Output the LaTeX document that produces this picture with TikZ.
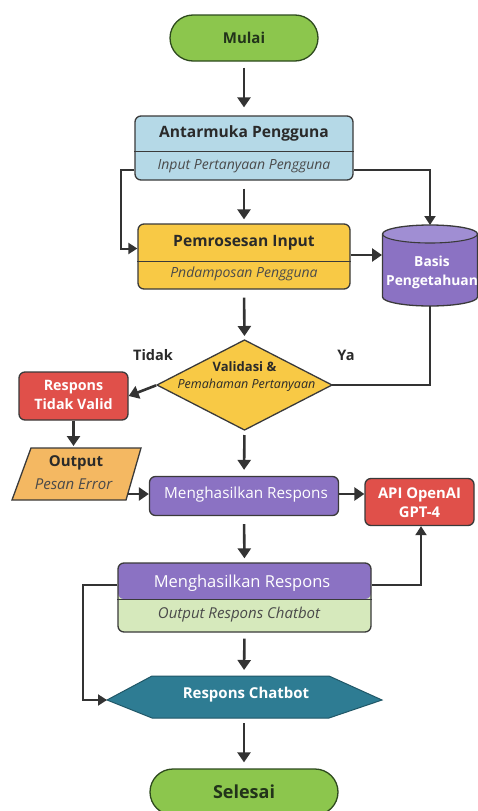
\documentclass[tikz,border=0pt]{standalone}
\usepackage{fontspec}
\setmainfont{Open Sans}
\usetikzlibrary{arrows.meta}
\definecolor{arrc}{HTML}{333333}
\definecolor{edge}{HTML}{3A3A3A}
\definecolor{termg}{HTML}{8CC64D}
\definecolor{termb}{HTML}{2E4A1E}
\definecolor{termt}{HTML}{22331A}
\definecolor{lblue}{HTML}{B5D9E7}
\definecolor{yel}{HTML}{F8C945}
\definecolor{purp}{HTML}{8B72C3}
\definecolor{purpl}{HTML}{A08ED3}
\definecolor{redb}{HTML}{E0504A}
\definecolor{oran}{HTML}{F4B862}
\definecolor{lgreen}{HTML}{D6E9BC}
\definecolor{teal}{HTML}{2E7C93}
\definecolor{darkt}{HTML}{2A2A2A}
\begin{document}
\begin{tikzpicture}[x=1pt,y=-1pt,
  arr/.style={draw=arrc, line width=2.6pt, -{Triangle[length=10pt,width=13pt]}},
  ln/.style={draw=arrc, line width=2pt, -{Triangle[length=9pt,width=11pt]}},
  plain/.style={draw=arrc, line width=2pt},
  term/.style={draw=termb, line width=1.3pt, fill=termg, rounded corners=23pt, minimum width=148pt, minimum height=46pt, font=\fontsize{15}{18}\selectfont\bfseries, text=termt},
  box/.style={draw=edge, line width=1.3pt, rounded corners=6pt, inner sep=0pt},
  ttl/.style={font=\fontsize{15.6}{18}\selectfont\bfseries, text=darkt, inner sep=0pt},
  wttl/.style={font=\fontsize{14.8}{19}\selectfont\bfseries, text=white, inner sep=0pt, align=center},
  sub/.style={font=\fontsize{14}{17}\selectfont\itshape, text=darkt!85, inner sep=0pt},
  lbl/.style={font=\fontsize{14.5}{17}\selectfont\bfseries, text=darkt, inner sep=0pt},
]
\useasboundingbox (0,0) rectangle (477,811);
\fill[white] (0,0) rectangle (477,811);

% Start
\node[term] (mulai) at (244,38) {Mulai};

% Antarmuka Pengguna
\node[box, fill=lblue, minimum width=218pt, minimum height=64pt] (ap) at (244,148) {};
\draw[edge, line width=1pt] (ap.west |- 0,151) -- (ap.east |- 0,151);
\node[ttl] (apt) at (244,133) {Antarmuka Pengguna};
\node[sub] (aps) at (244,166) {Input Pertanyaan Pengguna};

% Pemrosesan Input
\node[box, fill=yel, minimum width=212pt, minimum height=65pt] (pi) at (244,256.5) {};
\draw[edge, line width=1pt] (pi.west |- 0,261) -- (pi.east |- 0,261);
\node[ttl] (pit) at (244,243) {Pemrosesan Input};
\node[sub] (pis) at (244,274) {Pndamposan Pengguna};

% Basis Pengetahuan (cylinder)
\coordinate (kbT) at (430,225);
\coordinate (kbB) at (430,306);
\fill[purp] (382.5,234) -- (382.5,297) arc[start angle=180,end angle=0,x radius=47.5,y radius=9]
  -- (477.5,234) arc[start angle=0,end angle=-180,x radius=47.5,y radius=9] -- cycle;
\fill[purpl] (430,234) ellipse[x radius=47.5, y radius=9];
\draw[edge, line width=1.3pt] (382.5,234) -- (382.5,297) arc[start angle=180,end angle=0,x radius=47.5,y radius=9]
  -- (477.5,234) arc[start angle=0,end angle=-180,x radius=47.5,y radius=9] -- cycle;
\draw[edge, line width=1.1pt] (382.5,234) arc[start angle=180,end angle=0,x radius=47.5,y radius=9];
\node[wttl, font=\fontsize{13.8}{19}\selectfont\bfseries] (kb) at (432,272.5) {Basis\\Pengetahuan};

% Decision diamond
\coordinate (valT) at (244.5,340);
\coordinate (valB) at (244.5,430);
\coordinate (valL) at (157,385);
\coordinate (valR) at (332,385);
\filldraw[fill=yel, draw=edge, line width=1.3pt] (valT) -- (valR) -- (valB) -- (valL) -- cycle;
\node[font=\fontsize{13}{15}\selectfont\bfseries, text=darkt, inner sep=0pt] (valt) at (244.5,367) {Validasi \&};
\node[font=\fontsize{12.5}{15}\selectfont\itshape, text=darkt, inner sep=0pt] (vals) at (246.5,385) {Pemahaman Pertanyaan};
\node[lbl] (tidak) at (153,355) {Tidak};
\node[lbl] (ya) at (346,355) {Ya};

% Respons Tidak Valid
\node[box, fill=redb, minimum width=109pt, minimum height=48pt] (rtv) at (73.5,396) {};
\node[wttl, font=\fontsize{14.3}{19}\selectfont\bfseries] (rtvt) at (73.5,395) {Respons\\Tidak Valid};

% Output parallelogram
\coordinate (opTL) at (31,448);
\coordinate (opTR) at (141,448);
\coordinate (opBR) at (126,500);
\coordinate (opBL) at (12,500);
\filldraw[fill=oran, draw=edge, line width=1.3pt] (opTL) -- (opTR) -- (opBR) -- (opBL) -- cycle;
\node[ttl, font=\fontsize{15}{17}\selectfont\bfseries] (opt) at (76,463) {Output};
\node[sub, font=\fontsize{15}{17}\selectfont\itshape] (ops) at (73.5,484) {Pesan Error};
\coordinate (opR) at (128,494);

% Menghasilkan Respons 1
\node[box, fill=purp, minimum width=189pt, minimum height=39pt] (mr) at (244,496) {};
\node[font=\fontsize{15.3}{18}\selectfont, text=white, inner sep=0pt] (mrt) at (246,495) {Menghasilkan Respons};

% API OpenAI
\node[box, fill=redb, minimum width=109pt, minimum height=47pt] (api) at (419.5,502) {};
\node[wttl] (apit) at (419.5,502.5) {API OpenAI\\GPT-4};

% Menghasilkan Respons 2
\node[box, fill=lgreen, minimum width=253pt, minimum height=69pt,
  path picture={\fill[purp] (path picture bounding box.north west) rectangle ([yshift=-36pt]path picture bounding box.north east);}] (mr2) at (244.5,597.5) {};
\draw[edge, line width=1pt] (mr2.west |- 0,599) -- (mr2.east |- 0,599);
\node[font=\fontsize{16.5}{19}\selectfont, text=white, inner sep=0pt] (mr2t) at (242,583) {Menghasilkan Respons};
\node[sub, font=\fontsize{15}{18}\selectfont\itshape] (mr2s) at (239,615) {Output Respons Chatbot};

% Respons Chatbot hexagon
\coordinate (hxL) at (107,700);
\coordinate (hxR) at (382,700);
\coordinate (hxT) at (244,676);
\coordinate (hxB) at (244,718);
\filldraw[fill=teal, draw=teal!70!black, line width=1pt] (hxL) -- (152,676) -- (329,676) -- (hxR) -- (329,718) -- (152,718) -- cycle;
\node[font=\fontsize{15}{18}\selectfont\bfseries, text=white, inner sep=0pt] (hx) at (246,695) {Respons Chatbot};

% End
\node[term, minimum width=188pt, minimum height=46pt, font=\fontsize{18}{21}\selectfont\bfseries] (selesai) at (244,792) {Selesai};

% Connectors
\draw[arr, shorten <=6pt, shorten >=8pt] (mulai) -- (ap);
\draw[arr, shorten <=8pt, shorten >=4pt] (ap) -- (pi);
\draw[ln] ([yshift=-22pt]ap.west) -| ([xshift=-16pt,yshift=8pt]pi.west) -- ([yshift=8pt]pi.west);
\draw[ln] ([yshift=-22pt]ap.east) -| (kbT);
\draw[arr] (pi.east |- 0,255) -- (382,255);
\draw[plain] (kbB) |- (valR);
\draw[arr, shorten <=8pt, shorten >=4pt] (pi.south) -- (valT);
\draw[arr, shorten <=1pt] (valL) -- (rtv.east);
\draw[arr, shorten >=2pt] (rtv.south) -- (opTL -| rtv.south);
\draw[arr, shorten <=5pt, shorten >=6pt] (valB) -- (mr.north);
\draw[arr] (opR) -- (opR -| mr.west);
\draw[arr] (mr.east |- 0,494) -- (api.west |- 0,494);
\draw[arr, shorten <=8pt, shorten >=4pt] (mr.south) -- (mr2.north);
\draw[ln] (mr2.east |- 0,585) -| (api.south -| 421,0);
\draw[ln] (mr2.west |- 0,585) -| ([xshift=-24pt]hxL) -- (hxL);
\draw[arr, shorten <=6pt, shorten >=6pt] (mr2.south) -- (hxT);
\draw[arr, shorten <=5pt, shorten >=6pt] (hxB) -- (selesai.north);
\end{tikzpicture}
\end{document}
